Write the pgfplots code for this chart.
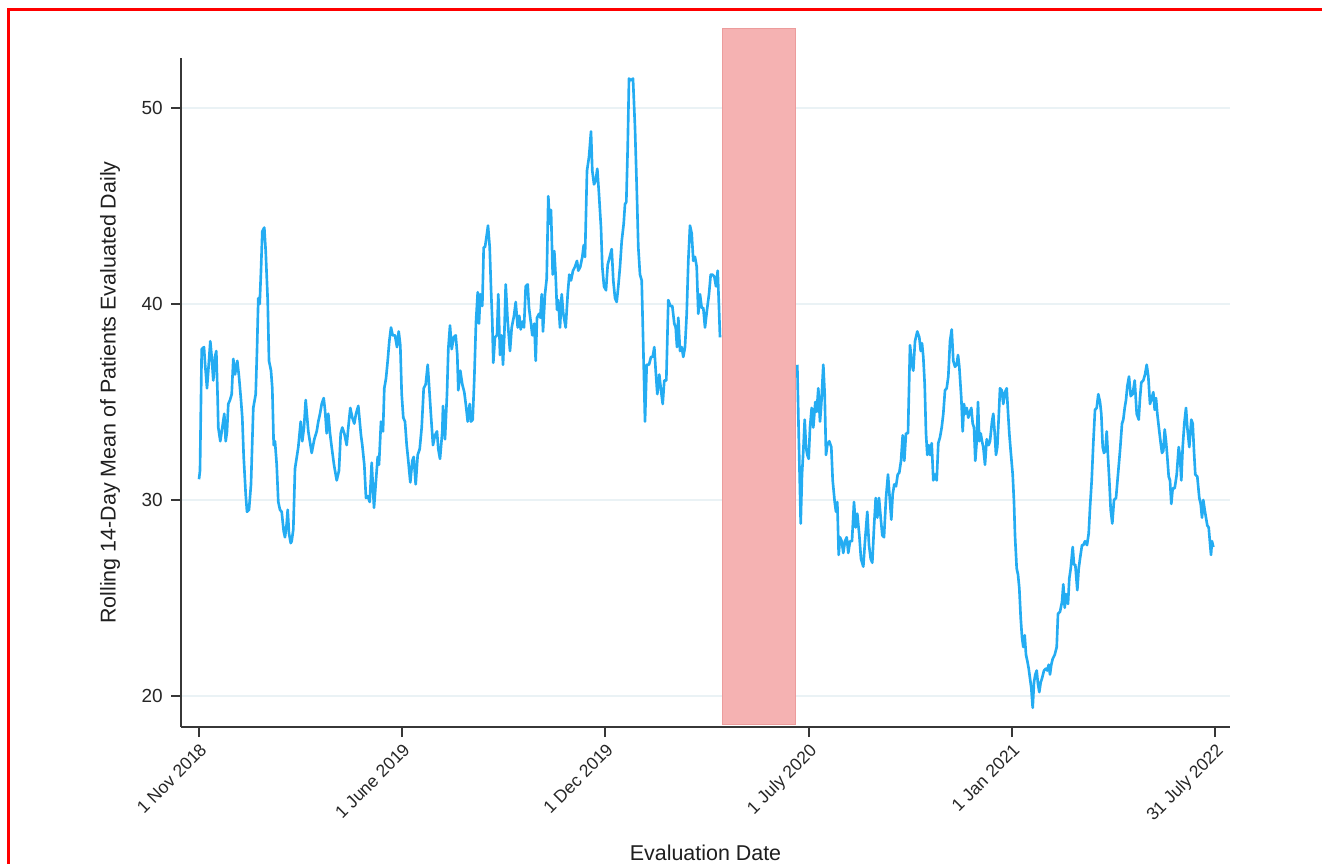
\documentclass[border=0pt]{standalone}
\usepackage{pgfplots}
\usepackage{pgfplotstable}
\pgfplotsset{compat=1.18}
\usepackage{fontspec}
\setmainfont{Liberation Sans}

\definecolor{seriesblue}{RGB}{36,172,242}
\definecolor{shadefill}{RGB}{245,178,178}
\definecolor{shadeedge}{RGB}{236,156,156}
\definecolor{gridcol}{RGB}{234,242,245}
\definecolor{axiscol}{RGB}{55,55,55}
\definecolor{framered}{RGB}{255,0,0}

% Rolling 14-day mean, first period (before the pause)
\pgfplotstableread{
x y
0 31.06
1 31.5
2.7 37.7
5 37.8
6 37.0
8 35.7
9.3 36.6
11.3 38.1
12.7 37.3
14.3 36.1
16 37.3
17.3 37.6
18.7 35.1
19.3 33.7
21.3 33.0
23.3 33.7
25.3 34.4
26.7 33.0
28 33.5
29.3 34.9
31 35.1
32.7 35.4
34.3 37.2
36 36.4
38.3 37.1
40 36.3
42 35.1
43.3 34.2
44.7 32.2
46.7 30.3
48 29.4
50 29.5
52 30.8
54.3 34.7
56.7 35.4
58 37.6
59.3 40.3
60.7 40.0
62 41.7
63.3 43.7
65.3 43.9
66.7 42.7
68.7 40.2
70 37.1
72 36.6
73.3 35.7
74.7 32.8
76 33.0
77.7 31.8
79.3 29.9
81 29.5
82.7 29.4
84.7 28.4
86 28.1
87.7 28.8
88.7 29.5
90 28.3
91.7 27.8
92.7 27.9
94.3 28.5
96 31.6
99.3 32.7
101.7 34.0
103.3 33.0
105 33.7
106.7 35.1
109.3 33.5
112.7 32.4
115.3 33.1
117.7 33.5
119.3 34.0
121 34.4
122.7 34.9
124.7 35.2
126 34.6
127.7 33.4
129.3 34.4
131 33.4
132.7 32.7
135 31.8
137.7 31.0
140 31.5
141.7 33.4
143.3 33.7
145.3 33.4
147.7 32.8
149.3 33.7
151.3 34.7
153.3 34.2
155.3 33.9
157 34.4
159.3 34.8
162 33.3
163.3 32.8
165.3 31.8
167 30.1
168.7 30.2
170.7 29.9
172.7 31.9
175 29.6
176.7 30.8
178.7 32.2
180 31.8
182 34.0
184 33.5
185.3 35.7
187 36.2
188.7 37.1
190.3 38.1
192 38.8
193.7 38.4
196 38.4
198 37.8
199.7 38.6
201.3 37.9
202.7 35.4
204.3 34.2
206 34.0
207.7 32.8
209.3 32.0
211.3 30.9
213.3 32.0
214.7 32.2
216.7 30.8
218.7 32.3
220.7 32.6
222.7 33.7
224.7 35.7
226.7 35.9
228.7 36.9
230 35.9
232 34.3
234 32.8
236 33.3
238 33.5
239.3 32.6
241 32.1
243.3 33.5
244 34.8
246 33.1
248 35.4
249.3 37.7
251 38.9
252.7 37.7
254.7 38.3
256.7 38.4
258.3 37.4
259.3 35.6
261.3 36.6
263.3 35.9
265.3 35.5
267 34.8
268.7 34.0
270.7 34.9
272 34.0
273.7 34.1
275.3 36.2
277 39.1
278.7 40.6
280 39.0
281.3 40.5
283.3 39.9
284.7 42.9
286 42.9
287.7 43.5
289 44.0
290.7 42.9
292 40.8
293.3 39.1
294.3 37.0
296 38.3
298 38.4
299.3 40.5
301 37.4
302.7 38.4
304 36.9
305.3 38.4
306.7 41.0
308.7 39.1
311 37.6
312.7 38.8
315 39.4
316.7 40.1
318.7 38.8
320.3 39.4
321.7 38.7
323.3 39.1
325 38.8
326.7 40.9
328.7 41.0
330 39.8
332 39.0
333.3 38.4
335.3 39.0
336.7 37.1
338 39.3
340 39.5
341.3 39.3
342.7 40.5
344 38.6
346 40.5
347.7 41.3
349.3 45.5
350.7 44.1
352 44.8
353.7 41.5
355.3 42.7
356.7 41.4
358 39.7
359.3 40.2
361 38.8
362.7 40.5
364.3 39.5
366.7 38.8
368.7 40.5
370.3 41.5
372 41.2
374 41.7
376 41.9
378 42.2
379.3 41.7
381.3 41.9
383.3 42.4
384.7 43.0
386 42.4
388 46.8
390 47.5
392 48.8
393.3 46.8
395 46.1
396.7 46.3
398.3 46.9
400 45.6
402 43.9
403.3 41.9
405 40.9
407 40.7
408.7 42.0
410.7 42.4
412.7 42.8
414.3 41.2
416 40.3
417.7 40.1
419.3 40.9
421 41.9
422.7 43.2
424.7 44.1
426 45.1
427.3 45.2
428.7 48.0
430 51.5
432 51.4
434 51.5
436 49.0
437.7 46.0
439.3 42.9
441 41.5
442.7 41.2
444.3 37.8
446 34.0
447.7 36.9
450 36.9
452 37.3
453.7 37.3
455.3 37.8
456.7 36.6
458.3 35.4
460.3 36.4
462 35.6
463.7 34.9
465.3 36.1
467.3 36.1
469.3 40.2
471.3 39.9
473.3 39.9
475.3 39.0
476.7 38.8
478 37.8
479.3 39.3
481 37.6
482.7 37.8
484.3 37.3
486 37.8
487.7 39.5
489.3 42.2
491 44.0
492.7 43.6
494.3 42.2
496 42.4
497.7 41.9
499.3 39.5
501 40.5
502.7 39.8
504.3 39.8
506 38.8
508 39.7
510 40.5
511.7 41.5
513.3 41.5
515.3 41.4
517 40.9
518.7 41.7
520 39.8
521 38.3
}\before

% Rolling 14-day mean, second period (after the pause)
\pgfplotstableread{
x y
598.3 36.9
599.7 33.4
601.7 28.8
603 31.3
604.3 32.5
605.7 34.1
607 32.7
608.3 32.3
609.7 32.1
611 33.7
612.7 34.7
614.3 33.7
616.3 35.0
617.7 34.5
619.3 35.7
621 34.0
622.3 34.9
624.3 36.9
625.7 35.4
627 32.3
628.3 32.8
630.3 33.0
632.3 32.7
633.7 31.0
635.7 29.9
637 29.4
638.3 29.9
639.7 27.2
641 28.1
642.7 27.9
644.3 27.3
646 27.9
647.7 28.1
649.3 27.3
651 27.9
653 27.9
655 29.9
656.7 28.6
658.3 29.3
660.3 28.2
662 27.0
664.3 26.6
666 27.9
668.3 29.4
670 27.7
671.7 27.0
673.3 26.8
675 28.6
676.7 30.1
678.3 29.1
680 30.1
681.7 29.1
683.3 28.2
685 28.1
687 30.1
689 31.3
691 29.9
692.3 29.0
693.7 30.3
695.3 30.8
697 30.7
698.7 31.3
700.3 31.4
702 32.0
703.7 33.3
705.3 32.0
707 33.4
709 33.4
711 37.9
713 36.9
714.3 36.6
716 38.1
718.3 38.6
720.3 38.3
721.7 37.6
723 38.0
724.3 37.3
725.7 35.9
727 33.4
728.3 32.3
729.7 32.8
731 32.3
732.7 32.9
734.3 31.0
736 31.3
737.7 31.0
739.3 32.9
741 33.2
742.7 33.7
744.3 34.4
746 35.6
747.7 35.7
749.3 36.3
751 38.1
752.7 38.7
754.3 37.1
756 36.8
757.7 36.9
759 37.4
760.3 36.8
762.3 35.2
763.7 33.5
765 34.9
766.3 34.4
767.7 34.7
769.3 34.2
771 34.5
772.3 34.7
773.7 33.9
775 33.7
776.3 32.0
777.7 33.0
779 35.0
780.3 33.0
781.7 33.4
783 33.0
784.3 32.7
786 31.8
787.7 33.1
789.7 32.8
791 33.0
793 34.0
794.3 34.4
795.7 33.4
797 32.3
798.3 32.7
799.7 34.2
801 35.7
802.7 35.6
804.3 34.9
806 35.5
807.7 35.7
809 34.5
810.3 33.4
811.7 32.5
813.7 31.3
815 29.9
816 28.2
817.7 26.5
819 26.2
820.3 25.5
821.7 24.0
823 23.0
824.3 22.5
825.7 23.1
827 22.1
828.3 21.8
829.7 21.4
831 20.9
832.3 20.4
833.7 19.4
835 20.7
836.3 21.1
837.7 21.3
839 20.6
840.3 20.2
841.7 20.7
843 20.9
845 21.3
847 21.4
848.3 21.3
849.7 21.6
851 21.1
852.3 21.6
853.7 21.9
855.7 22.1
857.7 22.5
859 24.2
861 24.3
863 24.8
864.3 25.7
865.7 24.5
867 25.2
869 24.7
870.3 26.0
871.7 26.5
873.7 27.6
875 26.7
876.3 26.7
878.3 25.4
879.7 26.5
881 27.0
883 27.7
884.3 27.7
886 27.9
888 27.7
889.7 28.3
891 29.6
892.7 31.0
894.3 32.9
896 34.6
897.7 34.7
899.3 35.4
901 35.0
902.3 34.4
903.7 32.7
905 32.4
906.3 32.5
907.7 33.5
909 32.2
910.3 31.0
911.7 29.5
913.3 28.8
915 30.0
917 30.1
919 31.3
921 32.5
923 33.9
924.3 34.1
925.7 34.7
927 35.1
928.3 35.8
930 36.3
931.7 35.3
933.7 35.4
935.7 36.1
937.7 34.4
939.7 34.1
941 35.2
942.3 36.0
944.3 36.1
946 36.4
947.7 36.9
949.3 36.3
951 34.9
952.7 35.2
954.3 35.5
955.7 34.6
957 35.2
958.3 34.4
960.3 33.5
961.7 32.9
963 32.4
964.3 32.5
965.7 33.6
967 33.0
968.3 32.2
969.7 31.2
971 31.0
972.3 29.8
973.7 30.6
975.7 30.6
977.7 31.3
979.7 32.7
981 32.2
982.3 31.0
983.7 32.7
985.3 33.9
987 34.7
988.3 33.7
990.3 32.7
992.3 34.1
993.7 33.9
995 32.5
996.3 31.3
998.3 31.2
1000.3 30.1
1001.7 29.8
1003 29.1
1004.3 30.0
1005.7 29.5
1007 29.1
1008.3 28.7
1009.7 28.6
1011 27.8
1012 27.2
1013 27.9
1014.3 27.6
}\after

\begin{document}
\begin{tikzpicture}
% page frame
\path[use as bounding box] (0,0) rectangle (26.44cm,17.26cm);
\draw[framered, line width=0.06cm] (0.18cm,-1cm) -- (0.18cm,17.06cm) -- (27cm,17.06cm);

\begin{axis}[
  at={(3.62cm,2.72cm)}, anchor=south west,
  scale only axis, width=20.98cm, height=13.38cm,
  xmin=-18, xmax=1031,
  ymin=18.42, ymax=52.55,
  axis x line=bottom, axis y line=left,
  axis line style={-, draw=axiscol, line width=1.1pt},
  tick style={draw=axiscol, line width=1.1pt},
  major tick length=0.2cm,
  tick align=outside,
  xtick={0,203.2,406.4,609.6,812.8,1016},
  xticklabels={1 Nov 2018,1 June 2019,1 Dec 2019,1 July 2020,1 Jan 2021,31 July 2022},
  ytick={20,30,40,50},
  minor tick num=0,
  ymajorgrids,
  grid style={draw=gridcol, line width=1pt},
  /pgf/number format/assume math mode=true,
  tick label style={font=\fontsize{10}{12}\selectfont, text=black!85},
  xticklabel style={rotate=45, anchor=north east, inner sep=2pt},
  yticklabel style={inner sep=2pt, xshift=-2.5pt, font=\fontsize{10.8}{12}\selectfont},
  xlabel={Evaluation Date},
  ylabel={Rolling 14-Day Mean of Patients Evaluated Daily},
  label style={font=\fontsize{12.2}{14}\selectfont, text=black!88},
  xlabel style={at={(axis description cs:0.5,-0.1988)}, anchor=base},
  ylabel style={at={(axis description cs:-0.0677,0.5)}, anchor=center},
  clip=false,
]
% shaded pause period
\addplot[fill=shadefill, draw=shadeedge, line width=0.5pt]
  coordinates {(523,18.57) (596,18.57) (596,54.08) (523,54.08)} -- cycle;

\addplot[seriesblue, line width=1.5pt, line join=round] table[x=x, y=y] {\before};
\addplot[seriesblue, line width=1.5pt, line join=round] table[x=x, y=y] {\after};
\end{axis}
\end{tikzpicture}
\end{document}
